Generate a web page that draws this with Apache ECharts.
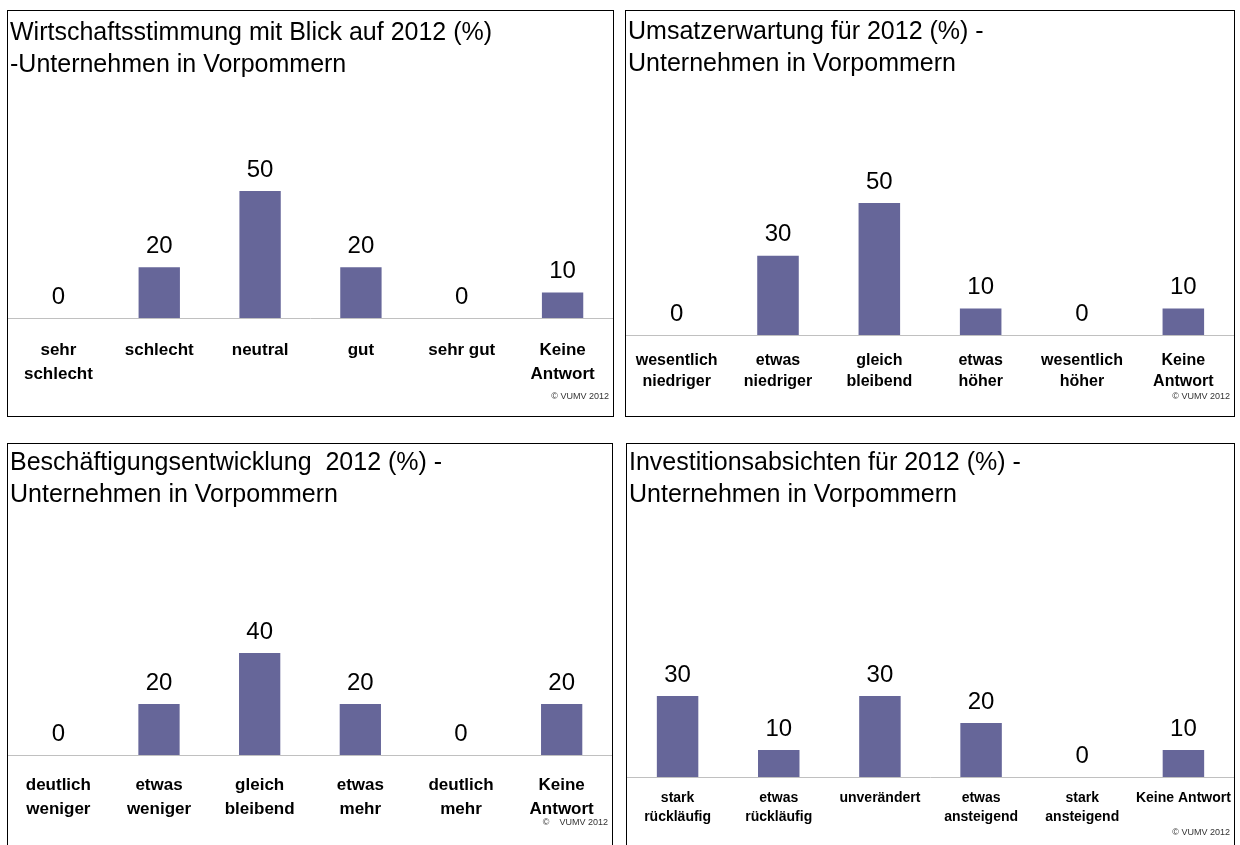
<!DOCTYPE html>
<html>
<head>
<meta charset="utf-8">
<script src="https://cdn.jsdelivr.net/npm/echarts@6/dist/echarts.min.js"></script>
<style>
  html, body { margin: 0; padding: 0; background: #fff; width: 1240px; height: 845px; overflow: hidden; }
  .panel { position: absolute; box-sizing: border-box; border: 1px solid #000; background: #fff; }
  #p1 { left: 7px; top: 10px; width: 607px; height: 407px; }
  #p2 { left: 625px; top: 10px; width: 610px; height: 407px; }
  #p3 { left: 7px; top: 443px; width: 606px; height: 420px; }
  #p4 { left: 626px; top: 443px; width: 609px; height: 420px; }
</style>
</head>
<body>
<div id="p1" class="panel"></div>
<div id="p2" class="panel"></div>
<div id="p3" class="panel"></div>
<div id="p4" class="panel"></div>
<script>
const moodTitle = 'Wirtschaftsstimmung mit Blick auf 2012 (%)\n-Unternehmen in Vorpommern'
const moodCats = ['sehr\nschlecht', 'schlecht', 'neutral', 'gut', 'sehr gut', 'Keine\nAntwort']
const moodValues = [0, 20, 50, 20, 0, 10]

const salesTitle = 'Umsatzerwartung für 2012 (%) -\nUnternehmen in Vorpommern'
const salesCats = ['wesentlich\nniedriger', 'etwas\nniedriger', 'gleich\nbleibend', 'etwas\nhöher', 'wesentlich\nhöher', 'Keine\nAntwort']
const salesValues = [0, 30, 50, 10, 0, 10]

const jobsTitle = 'Beschäftigungsentwicklung  2012 (%) -\nUnternehmen in Vorpommern'
const jobsCats = ['deutlich\nweniger', 'etwas\nweniger', 'gleich\nbleibend', 'etwas\nmehr', 'deutlich\nmehr', 'Keine\nAntwort']
const jobsValues = [0, 20, 40, 20, 0, 20]

const investTitle = 'Investitionsabsichten für 2012 (%) -\nUnternehmen in Vorpommern'
const investCats = ['stark\nrückläufig', 'etwas\nrückläufig', 'unverändert', 'etwas\nansteigend', 'stark\nansteigend', 'Keine Antwort']
const investValues = [30, 10, 30, 20, 0, 10]

const copyright = '© VUMV 2012'
const FONT = '"Liberation Sans", Arial, sans-serif'

function makePanel(id, title, cats, values, look) {
  const chart = echarts.init(document.getElementById(id), null, { renderer: 'canvas' })
  chart.setOption({
    animation: false,
    title: [
      {
        text: title,
        left: 2,
        top: look.titleTop,
        padding: 0,
        textStyle: {
          fontFamily: FONT,
          fontSize: 25,
          fontWeight: 'normal',
          color: '#000',
          lineHeight: 32,
        },
      },
      {
        text: look.copy || copyright,
        right: 4,
        top: look.copyTop,
        padding: 0,
        textStyle: {
          fontFamily: FONT,
          fontSize: 9,
          fontWeight: 'normal',
          color: '#333',
        },
      },
    ],
    grid: {
      left: 0,
      right: 0,
      top: look.top,
      bottom: look.bottom,
      containLabel: false,
    },
    xAxis: {
      type: 'category',
      data: cats,
      axisLine: { lineStyle: { color: '#c0c0c0', width: 1 } },
      axisTick: { length: 5, lineStyle: { color: '#c0c0c0' } },
      axisLabel: {
        interval: 0,
        margin: look.labelMargin,
        fontFamily: FONT,
        fontSize: look.labelSize,
        fontWeight: 'bold',
        color: '#000',
        lineHeight: look.labelLine,
      },
    },
    yAxis: {
      type: 'value',
      min: 0,
      max: 100,
      show: false,
      splitLine: { show: false },
    },
    series: [
      {
        type: 'bar',
        data: values,
        barWidth: '41%',
        itemStyle: { color: '#666699' },
        label: {
          show: true,
          position: 'top',
          distance: 9,
          fontFamily: FONT,
          fontSize: 24,
          color: '#000',
        },
      },
    ],
  })
  return chart
}

makePanel('p1', moodTitle, moodCats, moodValues, {
  titleTop: 6, top: 53, bottom: 98, labelMargin: 20, labelSize: 17, labelLine: 24, copyTop: 381,
})
makePanel('p2', salesTitle, salesCats, salesValues, {
  titleTop: 5, top: 60, bottom: 81, labelMargin: 15, labelSize: 16, labelLine: 21, copyTop: 381,
})
makePanel('p3', jobsTitle, jobsCats, jobsValues, {
  titleTop: 3, top: 56, bottom: 107, labelMargin: 18, labelSize: 17, labelLine: 24, copyTop: 374,
  copy: '©    VUMV 2012',
})
makePanel('p4', investTitle, investCats, investValues, {
  titleTop: 3, top: 63, bottom: 85, labelMargin: 12, labelSize: 14, labelLine: 19, copyTop: 384,
})
</script>
</body>
</html>
